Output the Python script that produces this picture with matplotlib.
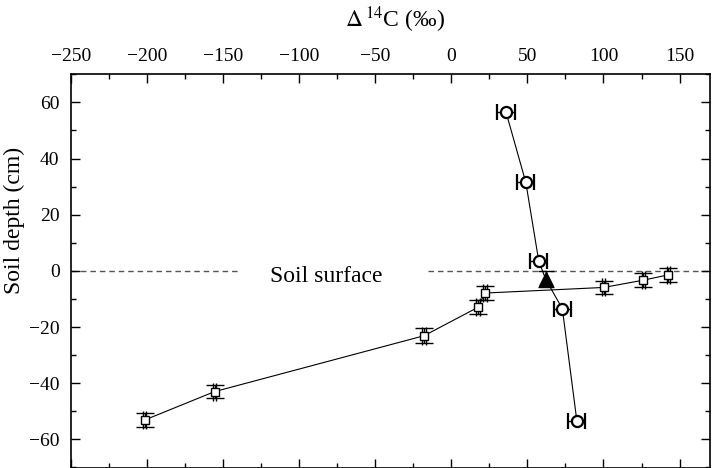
import matplotlib
matplotlib.use("Agg")
import matplotlib.pyplot as plt
from matplotlib.ticker import MultipleLocator

plt.rcParams['font.family'] = ['Liberation Serif', 'DejaVu Serif']
plt.rcParams['mathtext.fontset'] = 'stix'

# Circle series (with horizontal error bars)
circ_x = [36, 49, 57.5, 73, 82.5]
circ_y = [56.5, 31.5, 3.5, -13.5, -53.3]
circ_xerr = [5.7, 5.7, 5.7, 5.5, 5.5]

# Triangle point
tri_x = [62]
tri_y = [-2.9]
tri_yerr = [3.0]

# Connecting line for circle/triangle profile
prof_x = [36, 49, 57.5, 62, 73, 82.5]
prof_y = [56.5, 31.5, 3.5, -2.9, -13.5, -53.3]

# Square series
sq_x = [-201.4, -155.5, -17.9, 17.5, 22.1, 100.1, 126.3, 142.7]
sq_y = [-53.1, -43.0, -23.1, -13.0, -7.9, -5.9, -3.3, -1.4]
sq_xerr = [1.1, 1.1, 1.1, 1.1, 1.1, 1.1, 1.1, 1.1]
sq_yerr = [2.4, 2.4, 2.6, 2.5, 2.5, 2.4, 2.4, 2.4]

fig = plt.figure(figsize=(7.12, 4.68), dpi=100)
ax = fig.add_axes([70.7/712, (468-468.3)/468, (710-70.7)/712, (468.3-74.3)/468])

# soil surface dashed line
ax.plot([-250, -138], [0, 0], color='#555555', lw=1.0, ls=(0, (4, 2.8)), zorder=1)
ax.plot([-15, 170], [0, 0], color='#555555', lw=1.0, ls=(0, (4, 2.8)), zorder=1)
ax.text(-82, -2, 'Soil surface', ha='center', va='center', fontsize=17)

# lines
ax.plot(sq_x, sq_y, color='black', lw=0.8, zorder=2)
ax.plot(prof_x, prof_y, color='black', lw=0.8, zorder=2)

# squares
ax.errorbar(sq_x, sq_y, xerr=sq_xerr, yerr=sq_yerr, fmt='s', ms=6, mfc='white',
            mec='black', mew=1.0, ecolor='black', elinewidth=1.0, capsize=6.5,
            capthick=1.0, zorder=3)
# circles
ax.errorbar(circ_x, circ_y, xerr=circ_xerr, fmt='o', ms=8, mfc='white',
            mec='black', mew=1.6, ecolor='black', elinewidth=1.0, capsize=6,
            capthick=1.0, zorder=3)
# triangle
ax.errorbar(tri_x, tri_y, yerr=tri_yerr, fmt='^', ms=10, mfc='black',
            mec='black', ecolor='black', elinewidth=1.0, capsize=6,
            capthick=1.0, zorder=4)

ax.set_xlim(-250, 170)
ax.set_ylim(-70.3, 70)
ax.xaxis.set_major_locator(MultipleLocator(50))
ax.xaxis.set_minor_locator(MultipleLocator(25))
ax.yaxis.set_major_locator(MultipleLocator(20))
ax.yaxis.set_minor_locator(MultipleLocator(10))

ax.tick_params(which='both', direction='in', top=True, bottom=True, left=True, right=True,
               labeltop=True, labelbottom=False, width=1.0)
ax.tick_params(which='major', length=6.5, labelsize=14, pad=7)
ax.tick_params(which='minor', length=3.6)
ax.tick_params(axis='y', which='major', pad=8)
for s in ax.spines.values():
    s.set_linewidth(1.2)

ax.set_ylabel('Soil depth (cm)', fontsize=17)
ax.yaxis.set_label_coords(-0.0715, 0.629)

fig.text(395/712, 1 - 20/468, r'$\Delta\,^{14}$C (‰)', ha='center', va='center', fontsize=17)

fig.savefig('out.png', dpi=100)
